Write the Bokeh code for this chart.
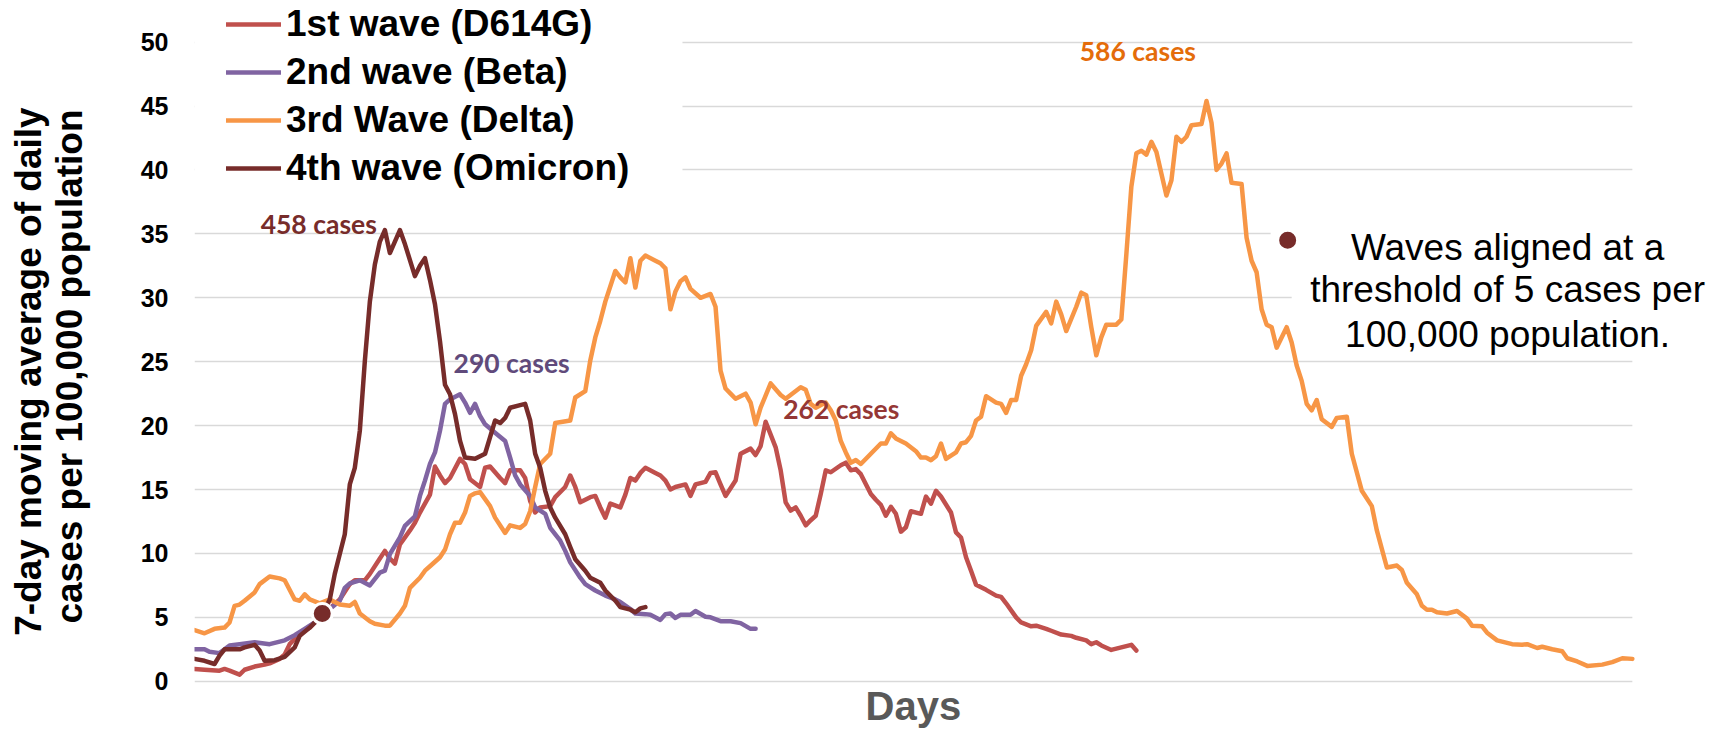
from bokeh.plotting import figure
from bokeh.models import Range1d, FixedTicker, Legend, LegendItem, Label, BoxAnnotation
from bokeh.embed import file_html
from bokeh.resources import INLINE

# ---------------- data ----------------
series_names = ["1st wave (D614G)", "2nd wave (Beta)", "3rd Wave (Delta)", "4th wave (Omicron)"]
series_colors = ["#C0504D", "#8064A2", "#F79646", "#772C2A"]

wave1_days = [0, 2, 5, 6, 7, 9, 10, 12, 14, 15, 17, 18, 19, 21, 23, 25, 27, 29, 31, 32, 34, 35, 37, 38, 39, 40,
              41, 43, 44, 45, 47, 48, 49, 50, 51, 53, 54, 55, 57, 58, 59, 61, 62, 63, 65, 66, 67, 68, 69, 71,
              72, 74, 75, 76, 77, 79, 80, 81, 82, 83, 85, 86, 87, 88, 89, 90, 92, 93, 94, 95, 96, 98, 99, 100,
              102, 103, 104, 105, 106, 108, 109, 111, 112, 113, 114, 116, 117, 118, 119, 120, 121, 122, 123,
              124, 125, 126, 127, 129, 130, 131, 132, 133, 135, 136, 137, 138, 139, 140, 141, 142, 143, 145,
              146, 147, 148, 149, 151, 152, 153, 154, 155, 156, 158, 160, 161, 162, 164, 165, 167, 168, 170,
              171, 173, 175, 176, 178, 179, 180, 181, 183, 185, 187, 188]
wave1_vals = [0.96, 0.9, 0.83, 0.96, 0.83, 0.52, 0.9, 1.15, 1.3, 1.4, 1.75, 2.1, 2.9, 3.7, 4.2, 5.0, 5.7, 6.4,
              7.6, 7.9, 7.9, 8.4, 9.6, 10.2, 9.6, 9.2, 10.7, 11.8, 12.4, 13.2, 14.6, 16.8, 16.1, 15.5, 15.9,
              17.4, 17.0, 15.8, 15.2, 16.7, 16.8, 15.9, 15.5, 16.5, 16.5, 15.9, 14.1, 13.2, 13.6, 13.7, 14.4,
              15.2, 16.1, 15.2, 14.0, 14.4, 14.5, 13.6, 12.8, 13.9, 13.6, 14.6, 15.9, 15.7, 16.3, 16.7, 16.3,
              16.1, 15.7, 15.0, 15.2, 15.4, 14.5, 15.4, 15.6, 16.3, 16.35, 15.4, 14.5, 15.7, 17.8, 18.2, 17.7,
              18.4, 20.3, 18.3, 16.5, 14.0, 13.35, 13.6, 12.95, 12.2, 12.6, 12.95, 14.65, 16.5, 16.35, 16.9,
              17.1, 16.5, 16.6, 16.2, 14.65, 14.2, 13.8, 12.95, 13.65, 13.1, 11.7, 12.05, 13.3, 13.1, 14.45,
              13.9, 14.9, 14.45, 13.2, 11.65, 11.25, 9.7, 8.65, 7.55, 7.15, 6.7, 6.6, 6.1, 5.0, 4.6, 4.3, 4.35,
              4.1, 3.95, 3.65, 3.55, 3.4, 3.2, 2.9, 3.05, 2.8, 2.45, 2.65, 2.85, 2.4]

wave2_days = [0, 2, 3, 5, 7, 9, 12, 15, 17, 18, 20, 22, 24, 26, 27, 29, 30, 31, 33, 35, 37, 38, 39, 41, 42, 44,
              45, 46, 47, 48, 49, 50, 51, 53, 54, 55, 56, 57, 58, 60, 62, 63, 64, 65, 67, 68, 70, 71, 73, 74,
              75, 77, 78, 79, 80, 82, 84, 85, 87, 88, 90, 91, 93, 94, 95, 96, 97, 99, 100, 102, 103, 105, 107,
              109, 111, 112]
wave2_vals = [2.5, 2.5, 2.3, 2.2, 2.8, 2.9, 3.05, 2.9, 3.1, 3.2, 3.6, 4.1, 4.6, 5.3, 5.65, 6.3, 7.3, 7.65, 7.9,
              7.5, 8.5, 8.65, 9.95, 11.25, 12.15, 12.9, 14.5, 15.7, 17.0, 17.9, 19.6, 21.7, 22.05, 22.45, 21.8,
              21.0, 21.7, 20.75, 20.1, 19.45, 18.8, 17.5, 16.1, 15.4, 14.5, 13.6, 13.1, 12.0, 11.0, 10.2, 9.3,
              8.1, 7.6, 7.35, 7.1, 6.7, 6.4, 6.2, 5.65, 5.3, 5.25, 5.2, 4.8, 5.25, 5.3, 4.95, 5.2, 5.2, 5.5,
              5.05, 5.0, 4.7, 4.7, 4.55, 4.1, 4.1]

wave3_days = [0, 2, 4, 6, 7, 8, 9, 10, 12, 13, 15, 17, 18, 20, 21, 22, 23, 25, 27, 29, 31, 32, 33, 35, 36, 38,
              39, 41, 42, 43, 45, 46, 47, 49, 50, 51, 52, 53, 54, 55, 56, 57, 59, 60, 62, 63, 65, 66, 67, 68,
              69, 71, 72, 75, 76, 78, 79, 80, 81, 82, 84, 85, 86, 87, 88, 89, 90, 92, 93, 94, 95, 96, 97, 98,
              99, 101, 103, 104, 105, 106, 107, 108, 110, 111, 112, 113, 115, 117, 118, 121, 122, 123, 124,
              126, 127, 128, 129, 130, 131, 132, 133, 135, 137, 138, 139, 140, 142, 144, 145, 146, 147, 148,
              149, 150, 152, 153, 154, 155, 156, 157, 158, 160, 161, 162, 163, 164, 165, 166, 167, 168, 170,
              171, 172, 173, 174, 176, 177, 178, 179, 180, 181, 182, 184, 185, 186, 187, 188, 189, 190, 191,
              192, 194, 195, 196, 197, 198, 199, 201, 202, 203, 204, 205, 206, 207, 209, 210, 211, 212, 213,
              214, 215, 216, 218, 219, 220, 221, 222, 223, 224, 225, 227, 228, 230, 231, 233, 235, 236, 238,
              240, 241, 242, 244, 245, 246, 247, 248, 250, 252, 254, 255, 257, 258, 260, 261, 263, 265, 266,
              268, 269, 271, 273, 274, 276, 278, 281, 283, 285, 287]
wave3_vals = [4.0, 3.75, 4.1, 4.2, 4.6, 5.9, 6.0, 6.3, 6.95, 7.6, 8.2, 8.05, 7.9, 6.4, 6.3, 6.8, 6.4, 6.1, 6.4,
              6.0, 5.9, 6.2, 5.3, 4.7, 4.5, 4.35, 4.35, 5.3, 5.9, 7.3, 8.1, 8.65, 9.0, 9.7, 10.3, 11.5, 12.4,
              12.4, 13.2, 14.5, 14.7, 14.8, 13.7, 12.8, 11.6, 12.2, 12.0, 12.3, 13.3, 15.2, 17.0, 17.8, 20.2,
              20.4, 22.2, 22.7, 25.1, 26.9, 28.2, 29.7, 32.1, 31.6, 31.2, 33.1, 30.8, 32.9, 33.3, 32.9, 32.7,
              32.3, 29.1, 30.5, 31.3, 31.6, 30.7, 30.0, 30.3, 29.3, 24.3, 22.9, 22.5, 22.1, 22.5, 21.8, 20.1,
              21.4, 23.3, 22.4, 22.1, 23.0, 22.8, 21.7, 21.4, 21.8, 21.2, 20.4, 18.8, 17.9, 17.1, 17.3, 17.0,
              17.8, 18.6, 18.6, 19.4, 19.0, 18.6, 18.0, 17.5, 17.5, 17.3, 17.6, 18.6, 17.4, 17.9, 18.6, 18.7,
              19.2, 20.4, 20.7, 22.3, 21.8, 21.7, 21.0, 22.0, 22.0, 23.9, 24.8, 25.9, 27.8, 28.9, 28.0, 29.7,
              28.7, 27.4, 29.3, 30.4, 30.2, 27.7, 25.5, 26.9, 27.9, 27.9, 28.3, 33.4, 38.7, 41.3, 41.5, 41.2,
              42.2, 41.4, 38.0, 39.2, 42.6, 42.2, 42.6, 43.5, 43.6, 45.4, 43.7, 40.0, 40.5, 41.3, 39.0, 38.9,
              34.7, 32.9, 32.0, 29.1, 27.9, 27.7, 26.1, 27.7, 26.5, 24.7, 23.5, 21.7, 21.2, 22.0, 20.5, 19.9,
              20.6, 20.7, 17.8, 14.9, 13.7, 11.8, 8.9, 9.05, 8.7, 7.7, 6.8, 5.9, 5.6, 5.6, 5.4, 5.3, 5.5, 4.9,
              4.35, 4.3, 3.8, 3.2, 3.1, 2.9, 2.85, 2.9, 2.6, 2.7, 2.5, 2.35, 1.8, 1.55, 1.2, 1.3, 1.5, 1.8, 1.75]

wave4_days = [0, 2, 4, 5, 6, 9, 10, 12, 13, 14, 16, 18, 20, 21, 23, 25, 26, 27, 28, 29, 30, 31, 32, 33, 34, 35,
              36, 37, 38, 39, 40, 41, 42, 44, 45, 46, 47, 48, 49, 50, 51, 52, 53, 54, 56, 58, 59, 60, 61, 62,
              63, 65, 66, 67, 68, 69, 70, 71, 72, 74, 75, 76, 78, 79, 81, 82, 84, 85, 87, 88, 89, 90]
wave4_vals = [1.75, 1.6, 1.35, 2.0, 2.5, 2.5, 2.65, 2.85, 2.4, 1.6, 1.65, 1.9, 2.65, 3.55, 4.2, 5.0, 5.6, 6.4,
              8.4, 9.95, 11.5, 15.4, 16.7, 19.6, 25.05, 29.7, 32.6, 34.4, 35.3, 33.5, 34.4, 35.3, 34.2, 31.7,
              32.5, 33.1, 31.4, 29.5, 26.6, 23.2, 22.45, 20.9, 18.8, 17.5, 17.4, 17.8, 19.1, 20.4, 20.2, 20.6,
              21.4, 21.6, 21.7, 20.4, 17.8, 16.7, 14.9, 13.6, 12.8, 11.5, 10.5, 9.55, 8.65, 8.1, 7.7, 7.1, 6.3,
              5.8, 5.6, 5.4, 5.7, 5.8]

# threshold crossing point where the waves are aligned
align_days = [25.5]
align_vals = [5.3]

# peak annotations
peak_texts = ["458 cases", "290 cases", "262 cases", "586 cases"]
peak_colors = ["#772C2A", "#604A7B", "#953735", "#E46C0A"]

y_ticks = [0, 5, 10, 15, 20, 25, 30, 35, 40, 45, 50]
y_title = "7-day moving  average of daily\ncases per 100,000 population"
x_title = "Days"
note_lines = ["Waves aligned at a", "threshold of 5 cases per", "100,000 population."]

LAST_DAY = 287

# ---------------- figure ----------------
p = figure(frame_width=1514, frame_height=732,
           min_border_left=194, min_border_right=0, min_border_top=0, min_border_bottom=0,
           x_range=Range1d(0, 302.2), y_range=Range1d(-4.01, 53.26),
           output_backend="svg", toolbar_location=None,
           background_fill_color="white", border_fill_color="white", outline_line_color=None)

# grid
p.xgrid.visible = False
p.ygrid.grid_line_color = "#D9D9D9"
p.ygrid.grid_line_width = 1.6

# y axis
p.yaxis.ticker = FixedTicker(ticks=y_ticks)
p.yaxis.axis_line_color = None
p.yaxis.major_tick_line_color = None
p.yaxis.minor_tick_line_color = None
p.yaxis.major_tick_out = 0
p.yaxis.major_tick_in = 0
p.yaxis.major_label_standoff = 26
p.yaxis.major_label_text_font = "Liberation Sans"
p.yaxis.major_label_text_font_style = "bold"
p.yaxis.major_label_text_font_size = "25px"
p.yaxis.major_label_text_color = "black"
p.yaxis.axis_label = y_title
p.yaxis.axis_label_text_font = "Liberation Sans"
p.yaxis.axis_label_text_font_style = "bold"
p.yaxis.axis_label_text_font_size = "37px"
p.yaxis.axis_label_text_color = "black"
p.yaxis.axis_label_text_line_height = 1.0
p.yaxis.axis_label_standoff = 48

# x axis: no ticks, the title is drawn below the zero line
p.xaxis.visible = False

# white boxes hiding the gridlines behind the legend, the note and right of the data
p.add_layout(BoxAnnotation(right=97.4, bottom=37.5, fill_color="white", fill_alpha=1.0,
                           line_alpha=0, level="underlay"))
p.add_layout(BoxAnnotation(left=LAST_DAY, fill_color="white", fill_alpha=1.0,
                           line_alpha=0, level="underlay"))
p.add_layout(BoxAnnotation(left=214.8, bottom=32.5, top=37.5, fill_color="white", fill_alpha=1.0,
                           line_alpha=0, level="underlay"))
p.add_layout(BoxAnnotation(left=219.0, bottom=26.5, top=32.5, fill_color="white", fill_alpha=1.0,
                           line_alpha=0, level="underlay"))

# series
all_days = [wave1_days, wave2_days, wave3_days, wave4_days]
all_vals = [wave1_vals, wave2_vals, wave3_vals, wave4_vals]
renderers = []
for d, v, c in zip(all_days, all_vals, series_colors):
    r = p.line(d, v, line_color=c, line_width=4.5, line_join="round", line_cap="round")
    renderers.append(r)

# alignment point
p.scatter(align_days, align_vals, size=20, fill_color="#772C2A", line_color="white", line_width=3)
# key marker of the note
p.scatter([218.2], [34.5], size=20, fill_color="#772C2A", line_color="white", line_width=3)

# peak labels (vertically centred on their y)
peak_pos = [(13.2, 35.77), (51.7, 24.91), (117.5, 21.27), (176.7, 49.3)]
for (x, y), t, c in zip(peak_pos, peak_texts, peak_colors):
    p.add_layout(Label(x=x, y=y, text=t, text_color=c, text_font="Lato", text_font_style="bold",
                       text_font_size="26.5px", text_align="left", text_baseline="middle"))

# note text
for y, t in zip([33.93, 30.64, 27.12], note_lines):
    p.add_layout(Label(x=262.1, y=y, text=t, text_color="black", text_font="Liberation Sans",
                       text_font_size="37px", text_align="center", text_baseline="middle"))

# x-axis title
p.add_layout(Label(x=143.5, y=-1.9, text=x_title, text_color="#595959", text_font="Liberation Sans",
                   text_font_style="bold", text_font_size="40px", text_align="center",
                   text_baseline="middle"))

# legend
legend = Legend(items=[LegendItem(label=n, renderers=[r]) for n, r in zip(series_names, renderers)],
                location=(32, 543), orientation="vertical", margin=0, padding=0,
                glyph_width=55, glyph_height=38, label_height=38, label_standoff=5,
                spacing=6, label_text_font="Liberation Sans", label_text_font_style="bold",
                label_text_font_size="37px", label_text_color="black",
                border_line_color=None, background_fill_alpha=0.0)
p.add_layout(legend)

open("out.html", "w").write(file_html(p, INLINE))
